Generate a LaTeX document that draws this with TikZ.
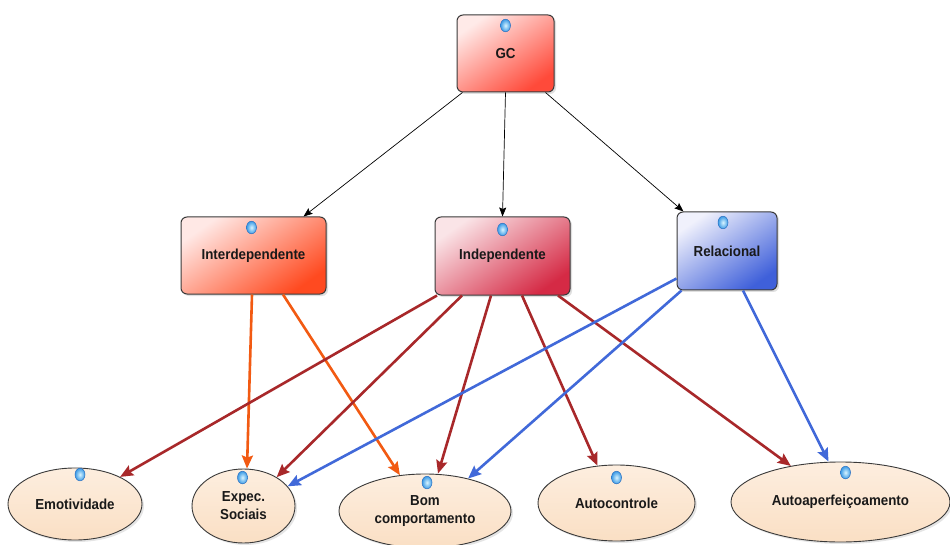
\documentclass[tikz,border=0pt]{standalone}
\usepackage{fontspec}
\newfontfamily\lblfont{Liberation Sans}[FakeStretch=0.92]
\usetikzlibrary{shapes.geometric,arrows.meta,shadows}
\definecolor{gcL}{HTML}{FFEAE8}\definecolor{gcD}{HTML}{FF4A3A}
\definecolor{idL}{HTML}{FFE8E5}\definecolor{idD}{HTML}{FF4A20}
\definecolor{inL}{HTML}{FAE4E7}\definecolor{inD}{HTML}{D52A45}
\definecolor{reL}{HTML}{F0F1FC}\definecolor{reD}{HTML}{3F60DA}
\definecolor{elL}{HTML}{FDEEDF}\definecolor{elD}{HTML}{FADFC4}
\definecolor{bord}{HTML}{3A3A3A}
\definecolor{cRed}{HTML}{A8282A}
\definecolor{cOra}{HTML}{F25A12}
\definecolor{cBlu}{HTML}{4169D9}
\definecolor{dotIn}{HTML}{D8F4FF}
\definecolor{dotOut}{HTML}{3C9BE6}
\definecolor{dotRim}{HTML}{2A6FC0}
\tikzset{
  lbl/.style={font=\lblfont\bfseries\fontsize{14.5}{18}\selectfont, text=black!90},
  boxnode/.style={lbl, rectangle, rounded corners=6pt, draw=bord, line width=1pt,
     drop shadow={shadow xshift=2pt, shadow yshift=-2pt, opacity=0.25}},
  shadeit/.style n args={2}{top color=#1, middle color=#1!85!#2, bottom color=#2, shading angle=35},
  ellnode/.style={lbl, ellipse, draw=bord, line width=0.9pt, inner sep=0pt, align=center,
     top color=elL, bottom color=elD,
     drop shadow={shadow xshift=2pt, shadow yshift=-2pt, opacity=0.2}},
  blk/.style={draw=black, line width=0.7pt, -{Stealth[length=9pt,width=7pt,inset=1.5pt]}},
  colarr/.style={draw=#1, line width=2.6pt, -{Stealth[length=13pt,width=11pt,inset=2pt]}},
  dotball/.style={inner color=dotIn, outer color=dotOut, draw=dotRim, line width=0.5pt}
}
\begin{document}
\begin{tikzpicture}[x=1pt,y=-1pt]
\useasboundingbox[fill=white] (0,0) rectangle (950,545);
% boxes
\node[boxnode, shadeit={gcL}{gcD}, minimum width=97pt, minimum height=77pt] (gc) at (505.5,53.5) {GC};
\node[boxnode, shadeit={idL}{idD}, minimum width=145pt, minimum height=77pt] (interdep) at (253.5,255.5) {Interdependente};
\node[boxnode, shadeit={inL}{inD}, minimum width=135pt, minimum height=78pt] (indep) at (502.5,256) {Independente};
\node[boxnode, shadeit={reL}{reD}, minimum width=100pt, minimum height=78pt] (rel) at (727,251) {Relacional};
% ellipses
\node[ellnode, minimum width=134pt, minimum height=72pt] (emot) at (75,504) {Emotividade};
\node[ellnode, minimum width=103pt, minimum height=74pt] (expec) at (243.5,506) {Expec.\\Sociais};
\node[ellnode, minimum width=172pt, minimum height=74pt] (bom) at (425,511) {Bom\\comportamento};
\node[ellnode, minimum width=157pt, minimum height=76pt] (autoc) at (616.5,503) {Autocontrole};
\node[ellnode, minimum width=219pt, minimum height=80pt] (autoap) at (840.5,502) {Autoaperfeiçoamento};
% dots
\foreach \n/\dx/\dy in {gc/0/11, interdep/-2/11, indep/0/13, rel/-4/11, emot/5/7, expec/-1/9, bom/2/9, autoc/0/13, autoap/5/11}
  \shade[dotball] ([xshift=\dx pt, yshift=-\dy pt]\n.north) ellipse [x radius=5pt, y radius=6.3pt];
% black connectors
\draw[blk] ([xshift=6pt]gc.south west) -- ([xshift=-23pt]interdep.north east);
\draw[blk] (gc.south) -- (indep.north);
\draw[blk] ([xshift=-9pt]gc.south east) -- ([xshift=7pt]rel.north west);
% orange
\draw[colarr=cOra] ([xshift=-1.5pt]interdep.south) -- ([xshift=3.5pt]expec.north);
\draw[colarr=cOra] ([xshift=29.5pt]interdep.south) -- (bom.125);
% dark red
\draw[colarr=cRed] ([xshift=-65.5pt]indep.south) -- (emot.31);
\draw[colarr=cRed] ([xshift=-40.5pt]indep.south) -- (expec.41);
\draw[colarr=cRed] ([xshift=-11.5pt]indep.south) -- ([xshift=13pt]bom.north);
\draw[colarr=cRed] ([xshift=19.5pt]indep.south) -- (autoc.117);
\draw[colarr=cRed] ([xshift=55.5pt]indep.south) -- (autoap.144);
% blue
\draw[colarr=cBlu] ([yshift=12pt]rel.south west) -- (expec.24);
\draw[colarr=cBlu] ([xshift=5pt]rel.south west) -- (bom.37);
\draw[colarr=cBlu] ([xshift=16pt]rel.south) -- ([xshift=-12pt]autoap.north);
\end{tikzpicture}
\end{document}
